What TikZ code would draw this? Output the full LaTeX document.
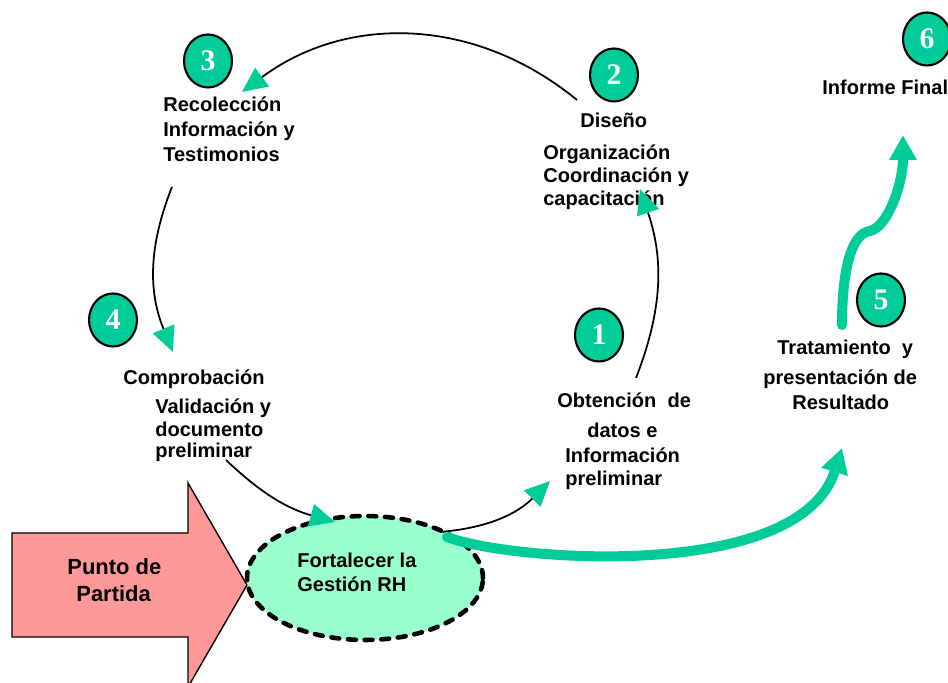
\documentclass[tikz,border=0pt]{standalone}
\usepackage{fontspec}
\setmainfont{Liberation Sans}
\newfontfamily\numfont{Liberation Serif}
\usetikzlibrary{arrows.meta,shapes.geometric}
\definecolor{stepgreen}{RGB}{0,204,153}
\definecolor{goalgreen}{RGB}{153,255,204}
\definecolor{startpink}{RGB}{255,153,153}

\begin{document}
\begin{tikzpicture}[x=0.02cm, y=0.02cm,
    stepno/.style = {draw, ellipse, line width=1.2pt, fill=stepgreen, minimum width=0.96cm, minimum height=1.06cm, inner sep=0pt, text=white, font=\numfont\bfseries\fontsize{17}{17}\selectfont},
    txt/.style = {anchor=base west, inner sep=0pt, font=\bfseries\fontsize{11.4}{13}\selectfont},
    bigtxt/.style = {anchor=base west, inner sep=0pt, font=\bfseries\fontsize{12.5}{14}\selectfont},
    goal/.style = {draw, ellipse, fill=goalgreen, line width=2.6pt, dash pattern=on 4.5pt off 5pt, line cap=round, minimum width=4.72cm, minimum height=2.48cm},
    ringarrow/.style = {line width=1pt, -{Triangle[length=0.5cm, width=0.46cm, color=stepgreen]}},
    flowarrow/.style = {stepgreen, line width=5.7pt, line cap=round, -{Triangle[length=0.5cm, width=0.52cm]}}]
    \useasboundingbox (0,0) rectangle (948,683);

    \draw[fill=startpink, line width=0.8pt] (12,46) -- (188,46) -- (188,-4) -- (247,98) -- (188,200) -- (188,150) -- (12,150) -- cycle;
    \node[bigtxt] (p1) at (67,108) {Punto de};
    \node[bigtxt] (p2) at (76,81) {Partida};

    \node[goal] (rh) at (365,105) {};
    \node[txt] (g1) at (297,115) {Fortalecer la};
    \node[txt] (g2) at (297,91) {Gestión RH};

    \node[txt] (t3a) at (163,571) {Recolección};
    \node[txt] (t3b) at (163,546) {Información y};
    \node[txt] (t3c) at (163,521) {Testimonios};

    \node[txt] (t2a) at (580,555) {Diseño};
    \node[txt] (t2b) at (543,523) {Organización};
    \node[txt] (t2c) at (543,500) {Coordinación y};
    \node[txt] (t2d) at (543,477) {capacitación};

    \node[txt] (t6) at (822,588) {Informe Final};

    \node[txt] (t4a) at (123,298) {Comprobación};
    \node[txt] (t4b) at (155,269) {Validación y};
    \node[txt] (t4c) at (155,246) {documento};
    \node[txt] (t4d) at (155,225) {preliminar};

    \node[txt] (t1a) at (557,275) {Obtención~~de};
    \node[txt] (t1b) at (587,245) {datos e};
    \node[txt] (t1c) at (565,220) {Información};
    \node[txt] (t1d) at (565,197) {preliminar};

    \node[txt] (t5a) at (777,328) {Tratamiento~~y};
    \node[txt] (t5b) at (763,298) {presentación de};
    \node[txt] (t5c) at (792,273) {Resultado};

    \node[stepno] (c1) at (599,348) {1};
    \node[stepno] (c2) at (614,608) {2};
    \node[stepno] (c3) at (208,622) {3};
    \node[stepno] (c4) at (113,363) {4};
    \node[stepno] (c5) at (881,383) {5};
    \node[stepno] (c6) at (927,644) {6};

    \coordinate (a0) at (440,151);
    \coordinate (a1) at (550,202);
    \coordinate (b0) at (636,305);
    \coordinate (b1) at (640,494);
    \coordinate (d0) at (577,583);
    \coordinate (d1) at (242,591);
    \coordinate (e0) at (172,496);
    \coordinate (e1) at (173,331);
    \coordinate (f0) at (226,223);
    \coordinate (f1) at (335,161);

    \draw[ringarrow] (a0) to[bend right=20] (a1);
    \draw[ringarrow] (b0) to[bend right=20] (b1);
    \draw[ringarrow] (d0) to[bend right=38] (d1);
    \draw[ringarrow] (e0) to[bend right=22] (e1);
    \draw[ringarrow] (f0) to[bend right=14] (f1);

    \coordinate (r0) at (447,146);
    \coordinate (r1) at (842,235);
    \coordinate (s5) at (842,358);
    \coordinate (k5) at (870,452);
    \coordinate (s6) at (903,548);

    \draw[flowarrow] (r0) .. controls (510,122) and (800,100) .. (r1);
    \draw[flowarrow] (s5) .. controls (842,405) and (849,449) .. (k5) .. controls (888,456) and (903,500) .. (s6);
\end{tikzpicture}
\end{document}
